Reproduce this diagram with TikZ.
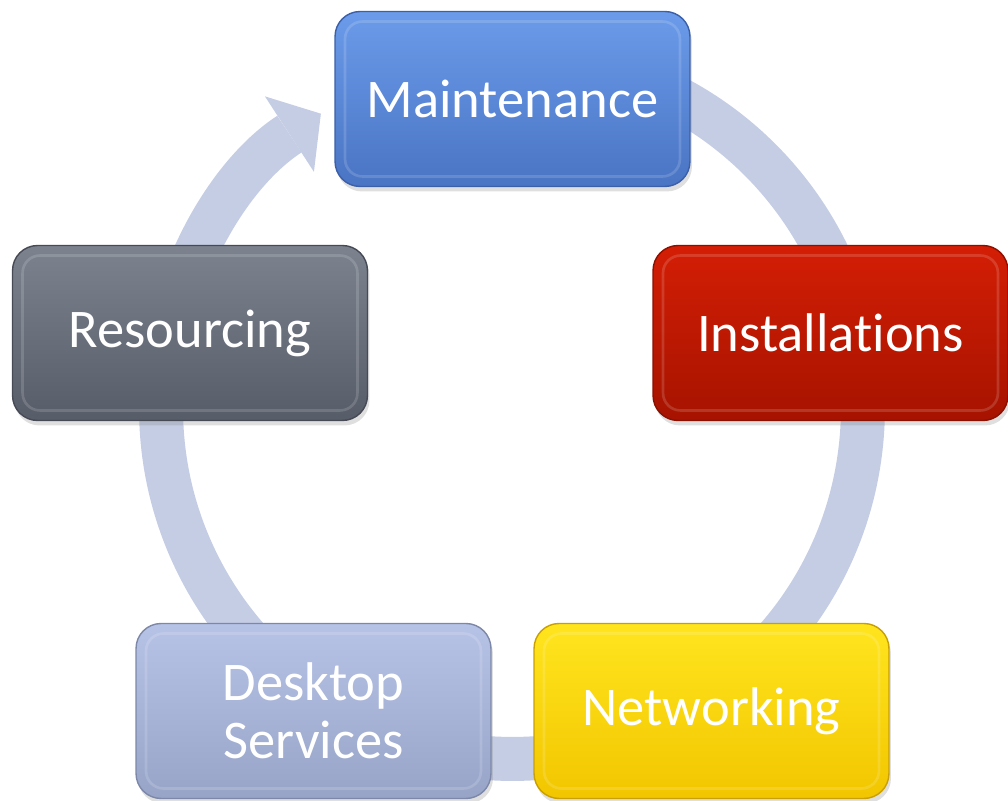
\documentclass[tikz,border=0pt]{standalone}
\usepackage{fontspec}
\setmainfont{Carlito}[Ligatures=NoCommon]
\usetikzlibrary{arrows.meta,shadows}

\definecolor{ringcol}{RGB}{196,205,228}
\definecolor{mainttop}{RGB}{107,155,234}
\definecolor{maintbot}{RGB}{74,116,196}
\definecolor{maintedge}{RGB}{59,95,168}
\definecolor{insttop}{RGB}{212,30,5}
\definecolor{instbot}{RGB}{166,19,0}
\definecolor{instedge}{RGB}{138,16,0}
\definecolor{netwtop}{RGB}{255,229,30}
\definecolor{netwbot}{RGB}{242,198,0}
\definecolor{netwedge}{RGB}{201,160,0}
\definecolor{desktop}{RGB}{183,195,230}
\definecolor{deskbot}{RGB}{151,164,200}
\definecolor{deskedge}{RGB}{125,136,168}
\definecolor{resotop}{RGB}{124,131,143}
\definecolor{resobot}{RGB}{86,92,104}
\definecolor{resoedge}{RGB}{69,74,85}

\tikzset{
  box/.style={rounded corners=0.5cm,minimum width=7.1cm,minimum height=3.5cm,
    text=white,font=\fontsize{31}{33}\selectfont,align=center,line width=0.8pt,
    drop shadow={opacity=0.25,shadow xshift=0.04cm,shadow yshift=-0.1cm},
    path picture={\draw[white,opacity=0.15,line width=1.5pt,rounded corners=0.35cm]
      ([shift={(0.2cm,0.2cm)}]path picture bounding box.south west) rectangle
      ([shift={(-0.2cm,-0.2cm)}]path picture bounding box.north east);}},
  maintbox/.style={box,top color=mainttop,bottom color=maintbot,draw=maintedge},
  instbox/.style={box,top color=insttop,bottom color=instbot,draw=instedge},
  netwbox/.style={box,top color=netwtop,bottom color=netwbot,draw=netwedge},
  deskbox/.style={box,top color=desktop,bottom color=deskbot,draw=deskedge},
  resobox/.style={box,top color=resotop,bottom color=resobot,draw=resoedge},
  ring/.style={draw=ringcol,line width=0.88cm}
}

\begin{document}
\begin{tikzpicture}[x=0.02cm,y=0.02cm]
  \useasboundingbox (0,0) rectangle (1008,801);
  \coordinate (ctr) at (512,393);
  % cycle ring
  \draw[ring,-{Triangle[width=1.8cm,length=0.75cm,line width=0pt]}]
    ([shift={(85:7.02cm)}]ctr) arc[start angle=85,end angle=-237,radius=7.02cm];
  % boxes
  \node[maintbox] (maint) at (512.5,702) {Maintenance};
  \node[instbox] (inst) at (830.5,468) {Installations};
  \node[netwbox] (netw) at (711.5,90) {Networking};
  \node[deskbox] (desk) at (313.5,90) {Desktop\\Services};
  \node[resobox] (reso) at (190,468) {Resourcing};
\end{tikzpicture}
\end{document}
